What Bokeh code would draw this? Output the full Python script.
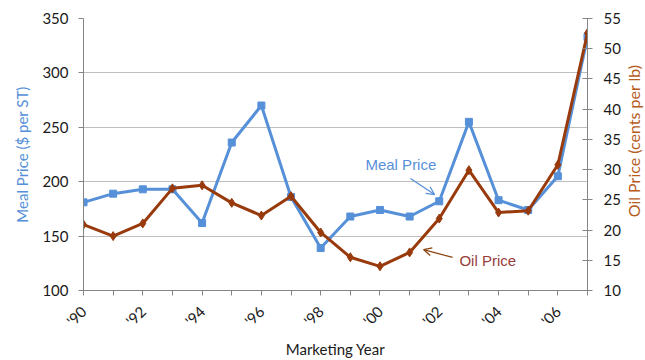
from bokeh.plotting import figure
from bokeh.layouts import row
from bokeh.models import (Range1d, LinearAxis, FixedTicker, Arrow, OpenHead, Label)
from bokeh.embed import file_html
from bokeh.resources import INLINE

# ---- data ----
years = list(range(1990, 2008))
meal_price = [181, 189, 193, 193, 162, 236, 270, 186, 139, 168, 174, 168, 182, 255, 183, 174, 205, 333]
oil_price = [20.9, 19.0, 21.1, 26.9, 27.4, 24.5, 22.4, 25.6, 19.6, 15.5, 14.0, 16.3, 21.9, 29.9, 22.9, 23.2, 30.8, 52.6]
year_labels = ["'90", "", "'92", "", "'94", "", "'96", "", "'98", "", "'00", "", "'02", "", "'04", "", "'06", ""]
meal_ticks = [100, 150, 200, 250, 300, 350]
oil_ticks = [10, 15, 20, 25, 30, 35, 40, 45, 50, 55]

MEAL_COLOR = "#5690D8"
OIL_COLOR = "#983A0C"
AXIS_COLOR = "#868686"
FONT = "Lato"

p = figure(width=625, height=360, output_backend="svg", toolbar_location=None,
           x_range=Range1d(years[0], years[-1]), y_range=Range1d(100, 350),
           min_border_left=83, min_border_right=38, min_border_top=18, min_border_bottom=70)
p.extra_y_ranges = {"oil": Range1d(10, 55)}
p.outline_line_color = None
p.background_fill_color = "white"
p.border_fill_color = "white"

# grid
p.xgrid.grid_line_color = None
p.ygrid.grid_line_color = "#BEBEBE"
p.ygrid.grid_line_width = 1

# x axis
xa = p.xaxis[0]
xa.ticker = FixedTicker(ticks=years)
xa.major_label_overrides = {y: l for y, l in zip(years, year_labels)}
xa.major_label_orientation = 0.785398
xa.axis_label = "Marketing Year"
xa.axis_label_text_font = FONT
xa.axis_label_text_font_style = "normal"
xa.axis_label_text_font_size = "15px"
xa.axis_label_text_color = "#1a1a1a"
xa.axis_label_standoff = 1
xa.major_label_text_font = FONT
xa.major_label_text_font_size = "15px"
xa.major_label_text_color = "#1a1a1a"
xa.major_label_standoff = 13
xa.major_tick_in = 0
xa.major_tick_out = 5
xa.minor_tick_line_color = None
xa.axis_line_color = AXIS_COLOR
xa.major_tick_line_color = AXIS_COLOR

# left axis
ya = p.yaxis[0]
ya.ticker = FixedTicker(ticks=meal_ticks)
ya.axis_label = "Meal Price ($ per ST)"
ya.axis_label_text_font = FONT
ya.axis_label_text_font_style = "normal"
ya.axis_label_text_font_size = "15px"
ya.axis_label_text_color = MEAL_COLOR
ya.axis_label_standoff = 8
ya.major_label_text_font = FONT
ya.major_label_text_font_size = "15px"
ya.major_label_text_color = "#1a1a1a"
ya.major_label_standoff = 10
ya.major_tick_in = 0
ya.major_tick_out = 5
ya.minor_tick_line_color = None
ya.axis_line_color = AXIS_COLOR
ya.major_tick_line_color = AXIS_COLOR

# right axis
ra = LinearAxis(y_range_name="oil", ticker=FixedTicker(ticks=oil_ticks))
ra.major_label_text_font = FONT
ra.major_label_text_font_size = "15px"
ra.major_label_text_color = "#1a1a1a"
ra.major_label_standoff = 11
ra.major_tick_in = 5
ra.major_tick_out = 5
ra.minor_tick_line_color = None
ra.axis_line_color = AXIS_COLOR
ra.major_tick_line_color = AXIS_COLOR
p.add_layout(ra, "right")

# series
p.line(years, meal_price, line_color=MEAL_COLOR, line_width=3)
p.scatter(years, meal_price, marker="square", size=7, fill_color=MEAL_COLOR, line_color=MEAL_COLOR)
p.line(years, oil_price, line_color=OIL_COLOR, line_width=3, y_range_name="oil")
p.scatter(years, oil_price, marker="diamond", size=9, fill_color=OIL_COLOR, line_color=OIL_COLOR,
          y_range_name="oil")

# annotations (positions in data units)
p.add_layout(Label(x=1999.51, y=215.8, text="Meal Price",
                   text_font="Liberation Sans", text_font_size="15px", text_color=MEAL_COLOR,
                   text_baseline="middle"))
p.add_layout(Label(x=2002.68, y=14.96, y_range_name="oil", text="Oil Price",
                   text_font="Liberation Sans", text_font_size="15px", text_color="#963C3A",
                   text_baseline="middle"))
p.add_layout(Arrow(x_start=2001.03, y_start=202.9, x_end=2001.84, y_end=188.2,
                   line_color=MEAL_COLOR, line_width=1.3,
                   end=OpenHead(size=8, line_color=MEAL_COLOR, line_width=1.3)))
p.add_layout(Arrow(x_start=2002.45, y_start=15.46, x_end=2001.47, y_end=16.78, y_range_name="oil",
                   line_color="#8B4513", line_width=1.3,
                   end=OpenHead(size=8, line_color="#8B4513", line_width=1.3)))

# right-hand axis title, in a narrow strip so it reads bottom-to-top
t = figure(width=20, height=360, output_backend="svg", toolbar_location=None,
           x_range=Range1d(0, 1), y_range=Range1d(0, 1), min_border=0)
t.axis.visible = False
t.grid.visible = False
t.outline_line_color = None
t.add_layout(Label(x=0.4, y=0.55, angle=1.5708, text="Oil Price (cents per lb)",
                   text_font=FONT, text_font_size="16px", text_color="#B65B1C",
                   text_align="center", text_baseline="middle"))

layout = row(p, t, spacing=0)
open("out.html", "w").write(file_html(layout, INLINE))
